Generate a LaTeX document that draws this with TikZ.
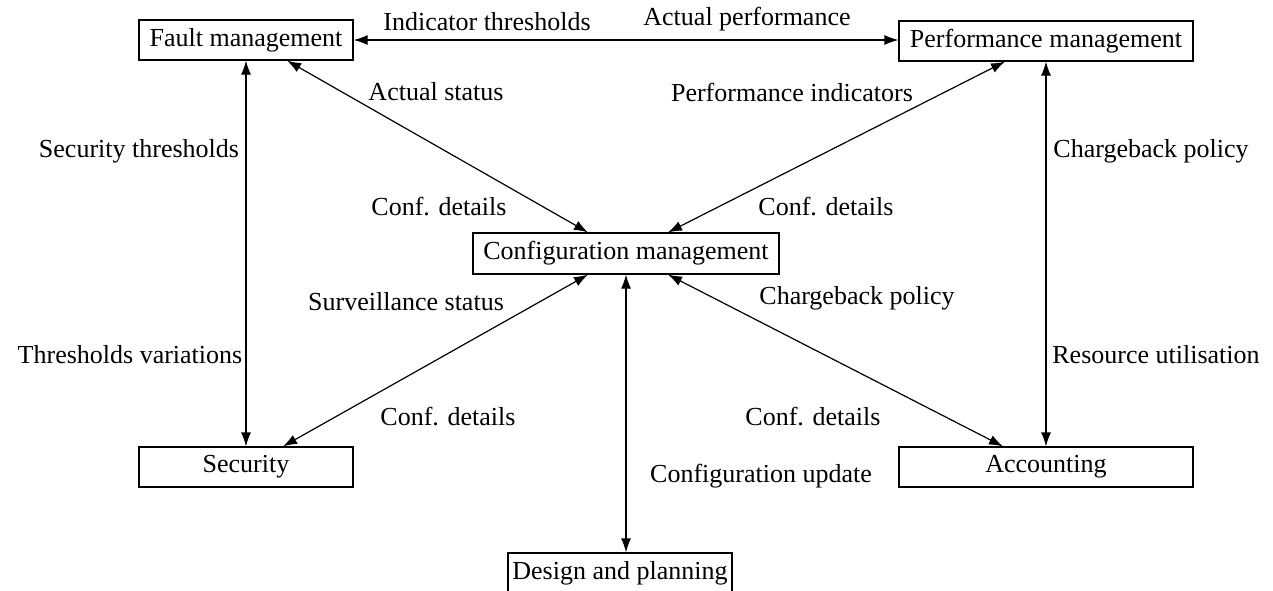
\documentclass[tikz,border=0pt]{standalone}
\usepackage{fontspec}
\setmainfont{Liberation Serif}
\usetikzlibrary{arrows.meta}
\begin{document}
\begin{tikzpicture}[x=0.5pt,y=-0.5pt,
  box/.style={draw,line width=0.6pt,inner sep=0pt,minimum height=20pt,font=\fontsize{13}{15}\selectfont},
  lbl/.style={inner sep=0pt,font=\fontsize{13}{15}\selectfont},
  link/.style={line width=0.6pt,{Latex[length=7pt,width=5pt]}-{Latex[length=7pt,width=5pt]}}]
\useasboundingbox (0,0) rectangle (1273,590);
\node[box,minimum width=107pt] (fault) at (246,40) {Fault management};
\node[box,minimum width=147pt] (perf) at (1046,41) {Performance management};
\node[box,minimum width=153pt,minimum height=20.5pt] (conf) at (626,253.5) {Configuration management};
\node[box,minimum width=107pt] (sec) at (246,467) {Security};
\node[box,minimum width=147pt] (acc) at (1046,467) {Accounting};
\node[box,minimum width=112pt] (design) at (620,573) {Design and planning};

\draw[link] (fault.east) -- (fault.east -| perf.west);
\draw[link] ([xshift=20.5pt]fault.south) -- ([xshift=-19pt]conf.north);
\draw[link] ([xshift=-20.5pt]perf.south) -- ([xshift=21pt]conf.north);
\draw[link] (fault.south) -- (sec.north);
\draw[link] (perf.south) -- (acc.north);
\draw[link] ([xshift=-19pt]conf.south) -- ([xshift=18.5pt]sec.north);
\draw[link] ([xshift=21pt]conf.south) -- ([xshift=-21.5pt]acc.north);
\draw[link] (conf.south) -- (conf.south |- design.north);

\node[lbl] (l1) at (487,22) {Indicator thresholds};
\node[lbl] (l2) at (747,19) {Actual performance};
\node[lbl] (l3) at (436,92) {Actual status};
\node[lbl] (l4) at (792,92) {Performance indicators};
\node[lbl] (l5) at (139,151) {Security thresholds};
\node[lbl] (l6) at (1151,151) {Chargeback policy};
\node[lbl] (l7) at (439,207) {Conf. details};
\node[lbl] (l8) at (826,207) {Conf. details};
\node[lbl] (l9) at (406,302) {Surveillance status};
\node[lbl] (l10) at (857,298) {Chargeback policy};
\node[lbl] (l11) at (130,355) {Thresholds variations};
\node[lbl] (l12) at (1156,355) {Resource utilisation};
\node[lbl] (l13) at (448,417) {Conf. details};
\node[lbl] (l14) at (813,417) {Conf. details};
\node[lbl] (l15) at (761,476) {Configuration update};
\end{tikzpicture}
\end{document}
